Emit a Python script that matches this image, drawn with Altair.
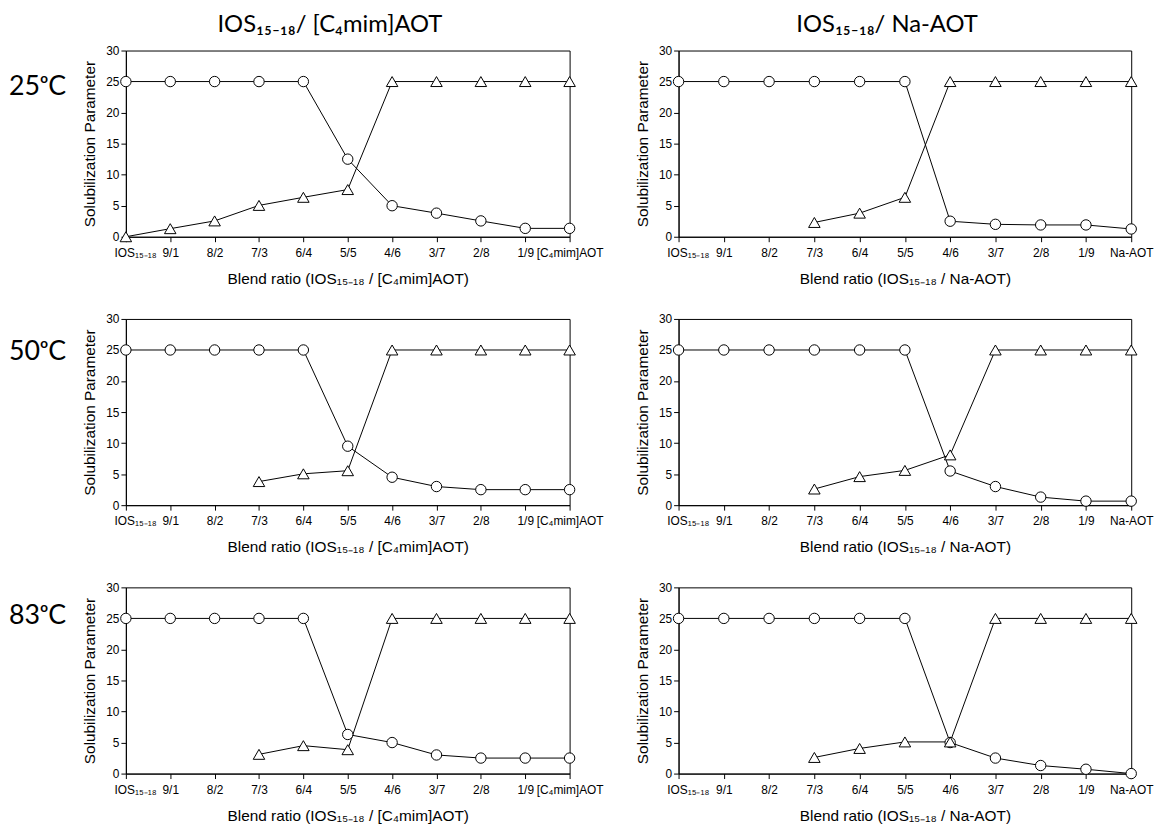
import json
import altair as alt
import pandas as pd

N = None
labels_c4 = ["IOS₁₅₋₁₈", "9/1", "8/2", "7/3", "6/4", "5/5", "4/6", "3/7", "2/8", "1/9", "[C₄mim]AOT"]
labels_na = ["IOS₁₅₋₁₈", "9/1", "8/2", "7/3", "6/4", "5/5", "4/6", "3/7", "2/8", "1/9", "Na-AOT"]
y_ticks = [0, 5, 10, 15, 20, 25, 30]

col_titles = ["IOS₁₅₋₁₈/ [C₄mim]AOT", "IOS₁₅₋₁₈/ Na-AOT"]
x_titles = ["Blend ratio (IOS₁₅₋₁₈ / [C₄mim]AOT)", "Blend ratio (IOS₁₅₋₁₈ / Na-AOT)"]
row_labels = ["25ᵒC", "50ᵒC", "83ᵒC"]
y_title = "Solubilization Parameter"

# 25 C
c4_25_circle = [25, 25, 25, 25, 25, 12.5, 5.0, 3.8, 2.55, 1.35, 1.35]
c4_25_triangle = [0, 1.3, 2.55, 5.05, 6.35, 7.6, 25, 25, 25, 25, 25]
na_25_circle = [25, 25, 25, 25, 25, 25, 2.5, 2.0, 1.9, 1.9, 1.25]
na_25_triangle = [N, N, N, 2.3, 3.8, 6.35, 25, 25, 25, 25, 25]
# 50 C
c4_50_circle = [25, 25, 25, 25, 25, 9.5, 4.5, 3.0, 2.5, 2.5, 2.5]
c4_50_triangle = [N, N, N, 3.8, 5.05, 5.55, 25, 25, 25, 25, 25]
na_50_circle = [25, 25, 25, 25, 25, 25, 5.5, 3.0, 1.3, 0.65, 0.65]
na_50_triangle = [N, N, N, 2.6, 4.6, 5.6, 8.1, 25, 25, 25, 25]
# 83 C
c4_83_circle = [25, 25, 25, 25, 25, 6.3, 5.0, 3.0, 2.5, 2.5, 2.5]
c4_83_triangle = [N, N, N, 3.1, 4.5, 3.85, 25, 25, 25, 25, 25]
na_83_circle = [25, 25, 25, 25, 25, 25, 5.0, 2.5, 1.3, 0.7, 0.0]
na_83_triangle = [N, N, N, 2.6, 4.05, 5.1, 5.1, 25, 25, 25, 25]

H = 188
W_LEFT = 448
W_RIGHT = 457
AXIS_FONT = "Liberation Sans"
BIG_FONT = "Lato"


def panel(labels, circ, tri, width, xtitle, col_title=None, row_label=None, row_label_y=None):
    rows = []
    for i, (c, t) in enumerate(zip(circ, tri)):
        if c is not None:
            rows.append({"x": i, "y": c, "s": "circle"})
        if t is not None:
            rows.append({"x": i, "y": t, "s": "triangle"})
    df = pd.DataFrame(rows)
    label_expr = json.dumps(labels, ensure_ascii=False) + "[datum.value]"
    x = alt.X(
        "x:Q",
        scale=alt.Scale(domain=[0, 10], nice=False, zero=False),
        axis=alt.Axis(
            values=list(range(11)),
            labelExpr=label_expr,
            labelOverlap=False,
            labelFlush=False,
            labelAlign={"condition": {"test": "datum.value == 0", "value": "left"}, "value": "center"},
            labelOffset={"condition": {"test": "datum.value == 0", "value": -12}, "value": 0},
            labelPadding=6,
            title=xtitle,
            titlePadding=13,
        ),
    )
    y = alt.Y(
        "y:Q",
        scale=alt.Scale(domain=[0, 30], nice=False),
        axis=alt.Axis(values=y_ticks, title=y_title, titlePadding=8, labelPadding=2),
    )
    base = alt.Chart(df).encode(x=x, y=y)
    lines = base.mark_line(color="black", strokeWidth=1).encode(detail="s:N")
    circles = base.transform_filter("datum.s == 'circle'").mark_point(
        shape="circle", filled=True, fill="white", stroke="black",
        strokeWidth=1, size=110, opacity=1)
    tris = base.transform_filter("datum.s == 'triangle'").mark_point(
        shape="triangle-up", filled=True, fill="white", stroke="black",
        strokeWidth=1, size=135, opacity=1)
    layers = [lines, circles, tris]
    if col_title is not None:
        layers.append(
            alt.Chart(pd.DataFrame({"t": [col_title]})).mark_text(
                font=BIG_FONT, fontSize=24, align="center", baseline="alphabetic", color="black"
            ).encode(x=alt.value(width / 2 - 18), y=alt.value(-19), text="t:N")
        )
    if row_label is not None:
        layers.append(
            alt.Chart(pd.DataFrame({"t": [row_label]})).mark_text(
                font=BIG_FONT, fontSize=27, align="left", baseline="middle", color="black"
            ).encode(x=alt.value(-118), y=alt.value(row_label_y), text="t:N")
        )
    return alt.layer(*layers).properties(width=width, height=H)


panels = [
    panel(labels_c4, c4_25_circle, c4_25_triangle, W_LEFT, x_titles[0], col_titles[0], row_labels[0], 37),
    panel(labels_na, na_25_circle, na_25_triangle, W_RIGHT, x_titles[1], col_titles[1]),
    panel(labels_c4, c4_50_circle, c4_50_triangle, W_LEFT, x_titles[0], None, row_labels[1], 33),
    panel(labels_na, na_50_circle, na_50_triangle, W_RIGHT, x_titles[1]),
    panel(labels_c4, c4_83_circle, c4_83_triangle, W_LEFT, x_titles[0], None, row_labels[2], 29),
    panel(labels_na, na_83_circle, na_83_triangle, W_RIGHT, x_titles[1]),
]

chart = alt.concat(
    *panels, columns=2, spacing={"row": 83, "column": 110}, bounds="flush"
).properties(padding=0).configure_view(
    stroke="black", strokeWidth=1
).configure_axis(
    grid=False,
    domainColor="black",
    tickColor="black",
    tickSize=5,
    labelColor="black",
    titleColor="black",
    labelFont=AXIS_FONT,
    titleFont=AXIS_FONT,
    labelFontSize=12,
    titleFontSize=15.5,
    titleFontWeight="normal",
)

chart.save("out.html", embed_options={"renderer": "svg", "actions": False})
